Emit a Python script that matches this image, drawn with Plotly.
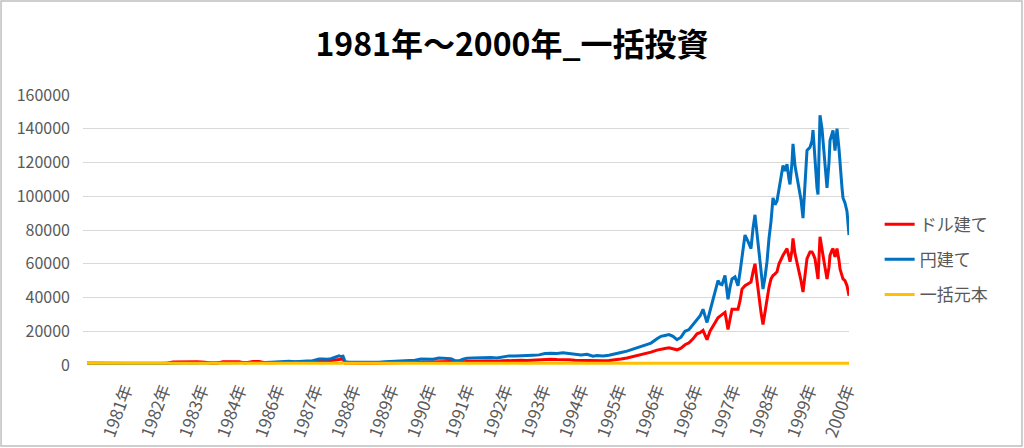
import plotly.graph_objects as go

# trading-day index of each sampled point (category position on the axis)
day = [0, 48, 96, 144, 192, 240, 264, 288, 312, 336, 360, 384, 432, 480, 516, 564, 612, 660, 708, 744,
       780, 816, 864, 912, 948, 996, 1032, 1068, 1104, 1140, 1176, 1212, 1248, 1284, 1320, 1344, 1368,
       1392, 1416, 1440, 1464, 1488, 1512, 1524, 1536, 1548, 1572, 1608, 1656, 1704, 1752, 1788, 1824,
       1860, 1896, 1932, 1968, 2004, 2040, 2076, 2112, 2148, 2184, 2208, 2232, 2256, 2280, 2316, 2352,
       2388, 2424, 2460, 2496, 2532, 2568, 2604, 2640, 2676, 2712, 2748, 2784, 2820, 2856, 2892, 2928,
       2964, 3000, 3036, 3060, 3096, 3132, 3168, 3204, 3240, 3276, 3312, 3348, 3384, 3420, 3444, 3468,
       3492, 3516, 3540, 3564, 3588, 3612, 3636, 3660, 3678, 3696, 3720, 3738, 3756, 3774, 3786, 3798,
       3810, 3828, 3846, 3858, 3870, 3888, 3906, 3918, 3930, 3948, 3966, 3984, 3996, 4008, 4020, 4032,
       4044, 4056, 4068, 4080, 4092, 4104, 4116, 4128, 4140, 4152, 4164, 4176, 4188, 4200, 4212, 4218,
       4230, 4236, 4248, 4260, 4272, 4284, 4296, 4308, 4320, 4338, 4350, 4356, 4368, 4380, 4386, 4398,
       4410, 4416, 4428, 4440, 4452, 4458, 4470, 4476, 4488, 4500, 4512, 4518, 4530, 4536, 4548, 4560,
       4572]

# 円建て (blue)
yen = [1000, 1000, 1000, 1000, 1000, 900, 200, 800, 300, 200, 300, 800, 1000, 1100, 1200, 1200, 1200,
       1200, 1200, 1100, 1100, 1200, 1200, 1200, 1300, 1400, 1400, 1500, 1700, 1900, 2000, 2200, 2000,
       2300, 2400, 2300, 3000, 3500, 3600, 3400, 3700, 4600, 5400, 5000, 5200, 2000, 1600, 1600, 1500,
       1600, 1700, 2000, 2100, 2200, 2400, 2500, 2800, 3500, 3600, 3400, 4100, 4000, 3700, 2600, 2500,
       3500, 4000, 4100, 4300, 4100, 4400, 4200, 4800, 5400, 5300, 5600, 5500, 5800, 6000, 6800, 7000,
       6800, 7200, 6800, 6200, 6000, 6300, 5200, 5600, 5400, 5800, 6400, 7400, 8200, 9400, 10600, 12000,
       13000, 15500, 17000, 17500, 18000, 17000, 15000, 16500, 20000, 21000, 24000, 27000, 29000, 33000,
       25200, 32000, 39000, 45000, 50000, 48000, 47600, 53000, 39000, 46000, 51000, 52200, 47000, 55000,
       65000, 77000, 73200, 69000, 81000, 89000, 78000, 66000, 57000, 45000, 52000, 61200, 75000, 85000,
       99000, 95000, 97200, 104000, 110000, 118200, 115000, 119000, 110000, 107000, 120000, 131000,
       118000, 111000, 104000, 98000, 87000, 105000, 127200, 129000, 133000, 139200, 120000, 105000,
       101000, 148000, 140000, 133000, 118000, 105000, 120000, 133000, 137000, 139000, 127000, 140000,
       128000, 119000, 105000, 99000, 96000, 91000, 77000]

# ドル建て (red)
dollar = [1000, 1000, 1000, 1000, 1000, 1000, 900, 900, 900, 900, 900, 1000, 1000, 1100, 1800, 1900,
          1800, 1900, 1700, 1000, 1000, 1900, 2000, 1900, 1200, 2100, 2100, 1300, 1400, 1500, 1600, 1700,
          1600, 1700, 1800, 1800, 2000, 2200, 2600, 2300, 2700, 3000, 3600, 3300, 3500, 1200, 1100, 1100,
          1100, 1100, 1200, 1300, 1400, 1600, 1700, 1800, 1900, 2100, 2200, 2100, 2300, 2200, 2100, 1700,
          1600, 1900, 2100, 2300, 2200, 2300, 2400, 2200, 2500, 2700, 2600, 2800, 2700, 2900, 3000, 3300,
          3400, 3200, 3300, 3100, 2800, 2700, 2900, 2400, 2500, 2500, 2700, 3000, 3600, 4200, 5000, 5800,
          6800, 7600, 8800, 9500, 9800, 10200, 9600, 9000, 10000, 12000, 13200, 15500, 18500, 19200,
          20500, 15000, 20000, 23000, 26000, 28000, 29000, 30000, 31200, 21000, 27000, 33000, 33000, 33000,
          38000, 45000, 47000, 48000, 49200, 55000, 60000, 50000, 40000, 31200, 24000, 32000, 39000, 46000,
          51000, 53000, 54000, 55200, 60000, 63000, 65000, 67000, 69000, 64000, 61200, 68000, 75000, 66000,
          61000, 56000, 50000, 43200, 52000, 63000, 67000, 67000, 66000, 63000, 55000, 51000, 76000, 70000,
          65000, 58000, 51000, 58000, 65000, 68000, 69000, 64000, 69000, 62000, 57000, 53000, 51000, 50000,
          47000, 41000]

# 一括元本 (orange), constant principal
principal_value = 1000
principal = [principal_value] * len(day)

tick_days = [228, 456, 684, 912, 1140, 1368, 1596, 1824, 2052, 2280, 2508, 2736, 2964, 3192, 3420,
             3648, 3876, 4104, 4332, 4560]
tick_labels = ["1981年", "1982年", "1983年", "1984年", "1986年", "1987年", "1988年", "1989年",
               "1990年", "1991年", "1992年", "1993年", "1994年", "1995年", "1996年", "1996年",
               "1997年", "1998年", "1999年", "2000年"]

FONT = "Noto Sans CJK JP"
GRAY = "#595959"

fig = go.Figure()
fig.add_trace(go.Scatter(x=day, y=dollar, name="ドル建て", mode="lines",
                         line=dict(color="#FF0000", width=3), legendgroup="a"))
fig.add_trace(go.Scatter(x=day, y=yen, name="円建て", mode="lines",
                         line=dict(color="#0070C0", width=3), legendgroup="b"))
fig.add_trace(go.Scatter(x=day, y=principal, name="一括元本", mode="lines",
                         line=dict(color="#FFC000", width=3), legendgroup="c"))

fig.update_layout(
    width=1024, height=448,
    margin=dict(l=83, r=175, t=95, b=83, autoexpand=False),
    paper_bgcolor="white", plot_bgcolor="white",
    font=dict(family=FONT, color=GRAY, size=15),
    title=dict(text="<b>1981年～2000年_一括投資</b>", x=0.5, xref="container", xanchor="center",
               y=0.9, yref="container", yanchor="middle",
               font=dict(family=FONT, size=32, color="#000000")),
    showlegend=True,
    legend=dict(x=1.04, xanchor="left", y=0.39, yanchor="middle",
                font=dict(family=FONT, size=17, color=GRAY),
                tracegroupgap=10, bgcolor="rgba(0,0,0,0)"),
    hovermode=False,
)
fig.update_yaxes(range=[0, 160000], dtick=20000, showgrid=True, gridcolor="#d9d9d9", gridwidth=1,
                 zeroline=False, showline=False, ticks="", tickformat="d", automargin=False,
                 tickfont=dict(family=FONT, size=16, color=GRAY), ticklabelstandoff=12)
fig.update_xaxes(range=[-24, 4572], showgrid=False, zeroline=False, showline=False, ticks="",
                 tickmode="array", tickvals=tick_days, ticktext=tick_labels, tickangle=-70,
                 automargin=False,
                 tickfont=dict(family=FONT, size=17, color=GRAY), ticklabelstandoff=10)

fig.add_shape(type="rect", xref="paper", yref="paper", x0=-0.107, x1=1.2258, y0=-0.3, y1=1.348,
              line=dict(color="#bfbfbf", width=1.5), fillcolor="rgba(0,0,0,0)", layer="below")

fig.write_html("out.html", config=dict(displayModeBar=False),
               post_script="document.body.style.margin='0';")
